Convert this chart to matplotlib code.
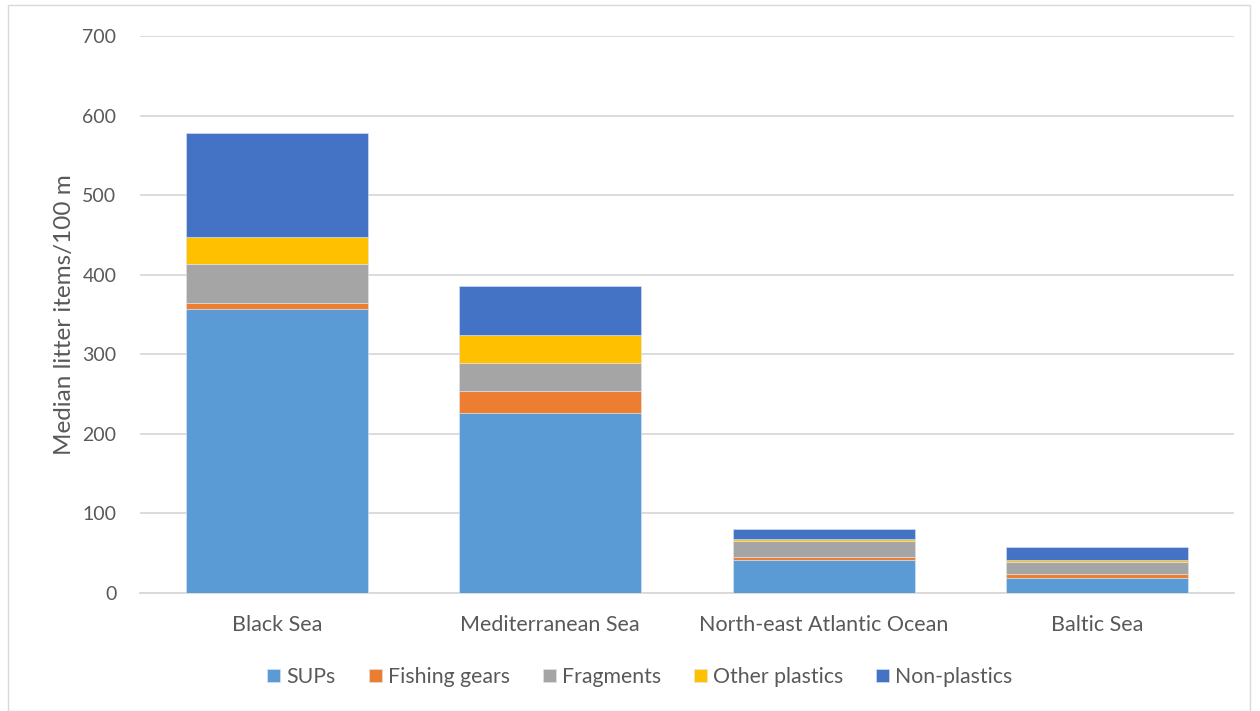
import matplotlib
matplotlib.use("Agg")
import matplotlib.pyplot as plt
import numpy as np
from matplotlib.patches import Rectangle

plt.rcParams['font.family'] = ['Lato', 'DejaVu Sans']

categories = ["Black Sea", "Mediterranean Sea", "North-east Atlantic Ocean", "Baltic Sea"]
series_names = ["SUPs", "Fishing gears", "Fragments", "Other plastics", "Non-plastics"]
sups = [357, 226, 41, 19]
fishing_gears = [7, 28, 4, 5]
fragments = [49, 35, 20, 15]
other_plastics = [35, 35, 3, 2]
non_plastics = [130, 62, 12, 17]
colors = ["#5B9BD5", "#ED7D31", "#A5A5A5", "#FFC000", "#4472C4"]
yticks = [0, 100, 200, 300, 400, 500, 600, 700]

fig = plt.figure(figsize=(12.6, 7.11), dpi=100)
ax = fig.add_axes([140/1260, 118/711, (1234-140)/1260, (593-36)/711])

x = np.arange(len(categories))
bottom = np.zeros(len(categories))
for name, vals, c in zip(series_names, [sups, fishing_gears, fragments, other_plastics, non_plastics], colors):
    ax.bar(x, vals, width=0.667, bottom=bottom, color=c, label=name, zorder=3,
           edgecolor="#dde6f3", linewidth=0.4)
    bottom += np.array(vals)

ax.set_xlim(-0.5, len(categories) - 0.5)
ax.set_ylim(0, 700)
ax.set_yticks(yticks)
ax.yaxis.grid(True, color="#d9d9d9", linewidth=1.3, zorder=0)
ax.set_axisbelow(True)
for s in ["top", "right", "left"]:
    ax.spines[s].set_visible(False)
ax.spines["bottom"].set_color("#d9d9d9")
ax.spines["bottom"].set_linewidth(1.3)
ax.tick_params(axis="x", length=0, labelsize=15.5, colors="#595959", pad=16)
ax.tick_params(axis="y", length=0, labelsize=14, colors="#595959", pad=17)
ax.set_xticks(x)
ax.set_xticklabels(categories)
ax.set_ylabel("Median litter items/100 m", fontsize=17.5, color="#595959", labelpad=5)

leg = fig.legend(loc="center", bbox_to_anchor=(0.508, 1 - 677/711), ncol=5, frameon=False,
                 fontsize=15.3, handlelength=0.6, handleheight=0.6, handletextpad=0.3,
                 columnspacing=1.55)
for t in leg.get_texts():
    t.set_color("#595959")

fig.patches.append(Rectangle((8/1260, 0), (1250-8)/1260, 1 - 5/711, transform=fig.transFigure,
                             fill=False, edgecolor="#d9d9d9", linewidth=1))

fig.savefig("out.png", dpi=100)
